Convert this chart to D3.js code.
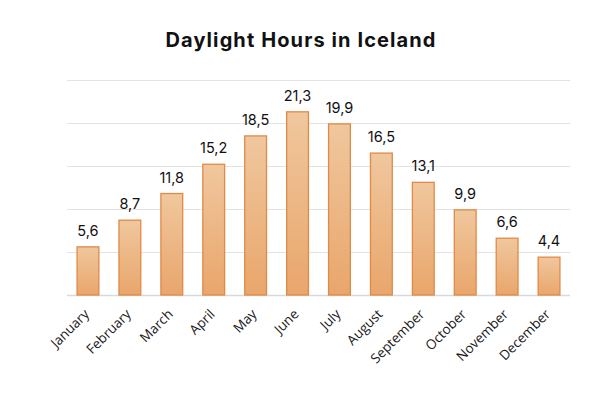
<!DOCTYPE html>
<html>
<head>
<meta charset="utf-8">
<script src="https://cdn.jsdelivr.net/npm/d3@7"></script>
<style>
  body { margin: 0; background: #fff; }
  svg { display: block; }
</style>
</head>
<body>
<div id="chart"></div>
<script>
// chart data
var months = ["January", "February", "March", "April", "May", "June",
  "July", "August", "September", "October", "November", "December"];
var hours = [5.6, 8.7, 11.8, 15.2, 18.5, 21.3, 19.9, 16.5, 13.1, 9.9, 6.6, 4.4];
var yTicks = [0, 5, 10, 15, 20, 25];

var svgWidth = 600, svgHeight = 400;
var margin = { top: 80, right: 30, bottom: 105, left: 67 };
var width = svgWidth - margin.left - margin.right;
var height = svgHeight - margin.top - margin.bottom;

var svg = d3.select("#chart").append("svg")
  .attr("width", svgWidth)
  .attr("height", svgHeight);

// bar gradient, lighter at the top
var grad = svg.append("defs").append("linearGradient")
  .attr("id", "barFill")
  .attr("x1", 0).attr("y1", 0).attr("x2", 0).attr("y2", 1);
grad.append("stop").attr("offset", "0%").attr("stop-color", "#f0c79e");
grad.append("stop").attr("offset", "100%").attr("stop-color", "#e9a66b");

svg.append("text")
  .attr("x", svgWidth / 2 + 1)
  .attr("y", 47)
  .attr("text-anchor", "middle")
  .attr("font-family", "Inter, 'Noto Sans', sans-serif")
  .attr("font-weight", 700)
  .attr("font-size", 20)
  .attr("letter-spacing", 1.1)
  .attr("fill", "#111")
  .text("Daylight Hours in Iceland");

var g = svg.append("g")
  .attr("transform", "translate(" + margin.left + "," + margin.top + ")");

var x = d3.scaleBand().domain(months).range([0, width]).paddingInner(0.48).paddingOuter(0.24);
var y = d3.scaleLinear().domain([0, 25]).range([height, 0]);

// gridlines
g.append("g")
  .call(d3.axisLeft(y).tickValues(yTicks).tickSize(-width).tickFormat(""))
  .call(function (s) { s.select(".domain").remove(); })
  .selectAll("line")
  .attr("stroke", function (d) { return d === 0 ? "#d5dae0" : "#e3e3e3"; })
  .attr("stroke-width", function (d) { return d === 0 ? 1.5 : 1; });

g.selectAll("rect.bar")
  .data(hours)
  .enter().append("rect")
  .attr("class", "bar")
  .attr("x", function (d, i) { return x(months[i]); })
  .attr("y", function (d) { return y(d); })
  .attr("width", x.bandwidth())
  .attr("height", function (d) { return height - y(d); })
  .attr("fill", "url(#barFill)")
  .attr("stroke", "#e08a48")
  .attr("stroke-width", 1.3);

g.selectAll("text.val")
  .data(hours)
  .enter().append("text")
  .attr("class", "val")
  .attr("x", function (d, i) { return x(months[i]) + x.bandwidth() / 2; })
  .attr("y", function (d) { return y(d) - 11; })
  .attr("text-anchor", "middle")
  .attr("font-family", "Inter, 'Noto Sans', sans-serif")
  .attr("font-size", 14.5)
  .attr("fill", "#111")
  .text(function (d) { return d.toFixed(1).replace(".", ","); });

// x axis labels, rotated
var xAxis = g.append("g")
  .attr("transform", "translate(0," + height + ")")
  .call(d3.axisBottom(x).tickSize(0).tickPadding(0));
xAxis.select(".domain").remove();
xAxis.selectAll("text")
  .attr("font-family", "'Open Sans', sans-serif")
  .attr("font-size", 13.5)
  .attr("fill", "#1a1a1a")
  .attr("text-anchor", "end")
  .attr("dy", "0")
  .attr("transform", "translate(2,20) rotate(-45)");
</script>
</body>
</html>
